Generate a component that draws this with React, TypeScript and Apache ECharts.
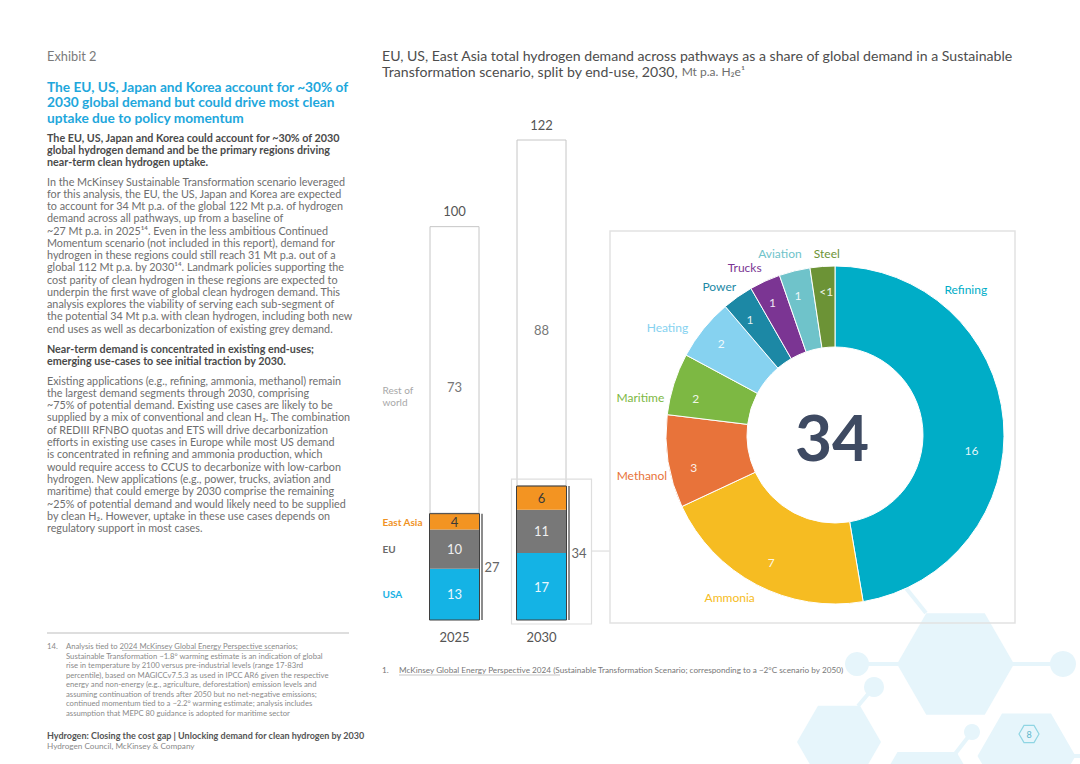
import React, { useEffect, useRef } from 'react';
import * as echarts from 'echarts';

// ---------- data ----------
const years = ['2025', '2030'];
const usa = [13, 17];
const eu = [10, 11];
const eastAsia = [4, 6];
const restOfWorld = [73, 88];
const totals = [100, 122];
const regionalTotals = [27, 34];

const endUses = ['Refining', 'Ammonia', 'Methanol', 'Maritime', 'Heating', 'Power', 'Trucks', 'Aviation', 'Steel'];
const endUseValues = [16, 7, 3, 2, 2, 1, 1, 1, 0.8];
const endUseLabels = ['16', '7', '3', '2', '2', '1', '1', '1', '<1'];
const donutTotal = 34;

// ---------- styles ----------
const FONT = 'Lato, "Noto Sans", sans-serif';
const endUseColors = ['#00adc7', '#f6bc22', '#e8733a', '#7db843', '#86d2f0', '#1c88a5', '#7b3593', '#6fc3ca', '#6c9336'];
const labelNudges = [[-72, -131], [7, 6], [12, 13], [3, 16], [-4, 4], [8, -4], [5, -6], [14, -10], [23, -5]];
const valueNudges = [[-9, 28], [4, -2], [3, 10], [0, 8], [0, 0], [-1, 4], [-2, 0], [-2, 2], [2, 2]];
const DECOR = '#e6f5fb';

const heading = [
  'The EU, US, Japan and Korea account for ~30% of',
  '2030 global demand but could drive most clean',
  'uptake due to policy momentum',
];
const sub1 = [
  'The EU, US, Japan and Korea could account for ~30% of 2030',
  'global hydrogen demand and be the primary regions driving',
  'near-term clean hydrogen uptake.',
];
const para1 = [
  'In the McKinsey Sustainable Transformation scenario leveraged',
  'for this analysis, the EU, the US, Japan and Korea are expected',
  'to account for 34 Mt p.a. of the global 122 Mt p.a. of hydrogen',
  'demand across all pathways, up from a baseline of',
  '~27 Mt p.a. in 2025¹⁴. Even in the less ambitious Continued',
  'Momentum scenario (not included in this report), demand for',
  'hydrogen in these regions could still reach 31 Mt p.a. out of a',
  'global 112 Mt p.a. by 2030¹⁴. Landmark policies supporting the',
  'cost parity of clean hydrogen in these regions are expected to',
  'underpin the first wave of global clean hydrogen demand. This',
  'analysis explores the viability of serving each sub-segment of',
  'the potential 34 Mt p.a. with clean hydrogen, including both new',
  'end uses as well as decarbonization of existing grey demand.',
];
const sub2 = [
  'Near-term demand is concentrated in existing end-uses;',
  'emerging use-cases to see initial traction by 2030.',
];
const para2 = [
  'Existing applications (e.g., refining, ammonia, methanol) remain',
  'the largest demand segments through 2030, comprising',
  '~75% of potential demand. Existing use cases are likely to be',
  'supplied by a mix of conventional and clean H₂. The combination',
  'of REDIII RFNBO quotas and ETS will drive decarbonization',
  'efforts in existing use cases in Europe while most US demand',
  'is concentrated in refining and ammonia production, which',
  'would require access to CCUS to decarbonize with low-carbon',
  'hydrogen. New applications (e.g., power, trucks, aviation and',
  'maritime) that could emerge by 2030 comprise the remaining',
  '~25% of potential demand and would likely need to be supplied',
  'by clean H₂. However, uptake in these use cases depends on',
  'regulatory support in most cases.',
];
const foot14 = [
  'Analysis tied to 2024 McKinsey Global Energy Perspective scenarios;',
  'Sustainable Transformation ~1.8° warming estimate is an indication of global',
  'rise in temperature by 2100 versus pre-industrial levels (range 17-83rd',
  'percentile), based on MAGICCv7.5.3 as used in IPCC AR6 given the respective',
  'energy and non-energy (e.g., agriculture, deforestation) emission levels and',
  'assuming continuation of trends after 2050 but no net-negative emissions;',
  'continued momentum tied to a ~2.2° warming estimate; analysis includes',
  'assumption that MEPC 80 guidance is adopted for maritime sector',
];

function txt(text: string, x: number, yFirst: number, size: number, lh: number, color: string, weight: any = 'normal', extra: any = {}) {
  return {
    type: 'text', x, y: yFirst - lh / 2, z: 10, silent: true,
    style: { text, fontSize: size, fontFamily: FONT, fontWeight: weight, fill: color, lineHeight: lh, textAlign: 'left', textVerticalAlign: 'top', ...extra },
  };
}
function hexPts(cx: number, cy: number, s: number) {
  const h = s * 0.866;
  return [[cx - s, cy], [cx - s / 2, cy - h], [cx + s / 2, cy - h], [cx + s, cy], [cx + s / 2, cy + h], [cx - s / 2, cy + h]];
}
function decoHex(cx: number, cy: number, s: number) {
  return { type: 'polygon', z: 0, silent: true, shape: { points: hexPts(cx, cy, s) }, style: { fill: DECOR } };
}
function decoCircle(cx: number, cy: number, r: number) {
  return { type: 'circle', z: 0, silent: true, shape: { cx, cy, r }, style: { fill: DECOR } };
}
function decoLine(x1: number, y1: number, x2: number, y2: number) {
  return { type: 'line', z: 0, silent: true, shape: { x1, y1, x2, y2 }, style: { stroke: DECOR, lineWidth: 4 } };
}

export default function App() {
  const ref = useRef<HTMLDivElement>(null);
  useEffect(() => {
    const chart = echarts.init(ref.current!, null, { renderer: 'svg' });

    const barLabel = (color: string) => ({ show: true, position: 'inside', color, fontSize: 13, fontFamily: FONT });

    const option: any = {
      animation: false,
      backgroundColor: '#ffffff',
      grid: { left: 411, width: 174, top: 108, height: 512 },
      xAxis: {
        type: 'category', data: years,
        axisLine: { show: false }, axisTick: { show: false },
        axisLabel: { color: '#555', fontSize: 13, fontFamily: FONT, margin: 10 },
      },
      yAxis: { type: 'value', min: 0, max: 130, show: false },
      graphic: [
        // decorations
        decoLine(926, 613, 893, 572),
        decoLine(860, 664, 900, 664),
        decoLine(1012, 664, 1060, 664),
        decoLine(874, 687, 858, 706),
        decoLine(972, 732, 955, 754),
        decoLine(1070, 756, 1080, 756),
        decoHex(955.5, 664, 58.5),
        decoHex(839, 742, 42),
        decoHex(927, 803, 59),
        decoHex(1026.5, 756, 49),
        decoCircle(857, 664, 12),
        decoCircle(1063, 664, 13),
        decoCircle(874, 687, 10),
        decoCircle(972, 732, 8),
        // page number
        { type: 'polygon', z: 5, silent: true, shape: { points: hexPts(1029, 734, 10) }, style: { fill: 'none', stroke: '#8fd5e3', lineWidth: 1.2 } },
        { type: 'text', z: 6, silent: true, x: 1029, y: 734, style: { text: '8', fontSize: 9, fontFamily: FONT, fill: '#5bb6ca', textAlign: 'center', textVerticalAlign: 'middle' } },
        // donut frame
        { type: 'rect', z: 1, silent: true, shape: { x: 610, y: 231, width: 405, height: 392 }, style: { fill: 'none', stroke: '#e2e2e2', lineWidth: 1.5 } },
        // donut center total
        { type: 'text', z: 10, silent: true, x: 832, y: 436, style: { text: String(donutTotal), fontSize: 64, fontWeight: 'bold', fontFamily: FONT, fill: '#3e4a62', textAlign: 'center', textVerticalAlign: 'middle' } },
        // left column
        txt('Exhibit 2', 47, 56, 12.8, 16, '#7a7a7a'),
        txt(heading.join('\n'), 47, 86, 13.7, 15.5, '#1ea7dc', 'bold'),
        txt(sub1.join('\n'), 47, 137, 10.75, 12.2, '#4a4a4a', 'bold'),
        txt(para1.join('\n'), 47, 181, 10.8, 12.25, '#6e6e6e'),
        txt(sub2.join('\n'), 47, 348, 10.75, 12.2, '#4a4a4a', 'bold'),
        txt(para2.join('\n'), 47, 380, 10.75, 12.33, '#6e6e6e'),
        { type: 'line', z: 5, silent: true, shape: { x1: 47, y1: 633, x2: 349, y2: 633 }, style: { stroke: '#bdbdbd', lineWidth: 1 } },
        txt('14.', 47, 646, 7.7, 9.57, '#8a8a8a'),
        txt(foot14.join('\n'), 66, 646, 7.7, 9.57, '#8a8a8a'),
        { type: 'line', z: 5, silent: true, shape: { x1: 122, y1: 650.5, x2: 273, y2: 650.5 }, style: { stroke: '#a0a0a0', lineWidth: 0.6 } },
        txt('Hydrogen: Closing the cost gap | Unlocking demand for clean hydrogen by 2030', 47, 735, 9, 11, '#555', 'bold'),
        txt('Hydrogen Council, McKinsey & Company', 47, 746, 8.2, 11, '#8a8a8a'),
        // chart title
        {
          type: 'text', x: 382, y: 47, z: 10, silent: true,
          style: {
            text: 'EU, US, East Asia total hydrogen demand across pathways as a share of global demand in a Sustainable\n{a|Transformation scenario, split by end-use, 2030, }{b|Mt p.a. H₂e¹}',
            fontSize: 14.1, fontFamily: FONT, fill: '#4d4d4d', lineHeight: 16, textAlign: 'left', textVerticalAlign: 'top',
            rich: {
              a: { fontSize: 14.1, fontFamily: FONT, fill: '#4d4d4d', lineHeight: 16 },
              b: { fontSize: 12, fontFamily: FONT, fill: '#6e6e6e', lineHeight: 16 },
            },
          },
        },
        // chart footnote
        txt('1.', 382, 670, 8.2, 10, '#777'),
        txt('McKinsey Global Energy Perspective 2024 (Sustainable Transformation Scenario; corresponding to a ~2°C scenario by 2050)', 399, 670, 8.2, 10, '#777'),
        { type: 'line', z: 5, silent: true, shape: { x1: 399, y1: 675, x2: 560, y2: 675 }, style: { stroke: '#a0a0a0', lineWidth: 0.6 } },
      ],
      series: [
        {
          name: 'USA', type: 'bar', stack: 'h2', barWidth: 50, data: usa,
          itemStyle: { color: '#14b3e5' }, label: barLabel('#e9f7fd'),
        },
        {
          name: 'EU', type: 'bar', stack: 'h2', barWidth: 50, data: eu,
          itemStyle: { color: '#787878' }, label: barLabel('#f0f0f0'),
        },
        {
          name: 'East Asia', type: 'bar', stack: 'h2', barWidth: 50, data: eastAsia,
          itemStyle: { color: '#f39422' }, label: barLabel('#3a3a3a'),
        },
        {
          name: 'Rest of world', type: 'bar', stack: 'h2', barWidth: 50, data: restOfWorld,
          itemStyle: { color: '#ffffff', borderColor: '#c6c6c6', borderWidth: 1 },
          label: { ...barLabel('#777'), offset: [0, 17] },
        },
        {
          name: 'annotations', type: 'custom', z: 5, silent: true,
          data: years.map((_, i) => [i, regionalTotals[i]]),
          encode: { x: 0, y: 1 },
          renderItem: (params: any, api: any) => {
            const i = params.dataIndex;
            const half = 25;
            const [cx, yBase] = api.coord([i, 0]);
            const ySub = api.coord([i, regionalTotals[i]])[1];
            const yTot = api.coord([i, totals[i]])[1];
            const mid = (ySub + yBase) / 2;
            const tStyle = (text: string, x: number, y: number, color: string, size: number, align: string, weight = 'normal') => ({
              type: 'text',
              style: { text, x, y, fill: color, fontSize: size, fontFamily: FONT, fontWeight: weight, textAlign: align, textVerticalAlign: 'middle', align, verticalAlign: 'middle', lineHeight: 12 },
            });
            const children: any[] = [
              { type: 'rect', shape: { x: cx - half, y: ySub, width: half * 2, height: yBase - ySub }, style: { fill: 'none', stroke: '#3f3f3f', lineWidth: 1 } },
              { type: 'line', shape: { x1: cx + half + 2.5, y1: ySub, x2: cx + half + 2.5, y2: yBase }, style: { stroke: '#666', lineWidth: 1.5 } },
              tStyle(String(regionalTotals[i]), cx + half + 5, mid, '#666', 13, 'left'),
              tStyle(String(totals[i]), cx, yTot - 15, '#555', 13, 'center'),
            ];
            if (i === 1) {
              children.push({ type: 'rect', shape: { x: cx - 30, y: ySub - 7, width: 80, height: yBase - ySub + 11 }, style: { fill: 'none', stroke: '#dedede', lineWidth: 1.2 } });
              children.push({ type: 'line', shape: { x1: cx + 50, y1: mid - 2, x2: cx + 68, y2: mid - 2 }, style: { stroke: '#dedede', lineWidth: 1.2 } });
            }
            if (i === 0) {
              const lx = cx - 72;
              const yUsa = (api.coord([i, 0])[1] + api.coord([i, usa[i]])[1]) / 2;
              const yEu = (api.coord([i, usa[i]])[1] + api.coord([i, usa[i] + eu[i]])[1]) / 2;
              const yEa = (api.coord([i, usa[i] + eu[i]])[1] + api.coord([i, usa[i] + eu[i] + eastAsia[i]])[1]) / 2;
              const yRow = (ySub + yTot) / 2;
              children.push(tStyle('USA', lx, yUsa, '#19b1e4', 10, 'left', 'bold'));
              children.push(tStyle('EU', lx, yEu, '#6a6a6a', 10, 'left', 'bold'));
              children.push(tStyle('East Asia', lx, yEa, '#f0921f', 10, 'left', 'bold'));
              children.push(tStyle('Rest of\nworld', lx, yRow + 26, '#a8a8a8', 10, 'left'));
            }
            return { type: 'group', children };
          },
        },
        {
          name: 'End use', type: 'pie', center: [835, 435], radius: [88, 169], startAngle: 90, clockwise: true,
          avoidLabelOverlap: false, silent: true,
          data: endUses.map((name, i) => ({ name, value: endUseValues[i], itemStyle: { color: endUseColors[i] }, label: { color: endUseColors[i] } })),
          itemStyle: { borderColor: '#ffffff', borderWidth: 1 },
          label: { show: true, position: 'outside', formatter: '{b}', fontSize: 12, fontFamily: FONT },
          labelLine: { show: false, length: 8, length2: 0 },
          labelLayout: (p: any) => ({ dx: labelNudges[p.dataIndex][0], dy: labelNudges[p.dataIndex][1] }),
        },
        {
          name: 'End use values', type: 'pie', center: [835, 435], radius: [88, 198], startAngle: 90, clockwise: true,
          avoidLabelOverlap: false, silent: true, z: 4,
          data: endUses.map((name, i) => ({ name, value: endUseValues[i] })),
          itemStyle: { color: 'rgba(0,0,0,0)' },
          label: { show: true, position: 'inside', formatter: (p: any) => endUseLabels[p.dataIndex], color: 'rgba(255,255,255,0.9)', fontSize: 12, fontFamily: FONT },
          labelLine: { show: false },
          labelLayout: (p: any) => ({ dx: valueNudges[p.dataIndex][0], dy: valueNudges[p.dataIndex][1] }),
        },
      ],
    };
    chart.setOption(option);
    return () => chart.dispose();
  }, []);
  return <div ref={ref} style={{ position: 'fixed', left: 0, top: 0, width: 1080, height: 764, background: '#fff' }} />;
}
